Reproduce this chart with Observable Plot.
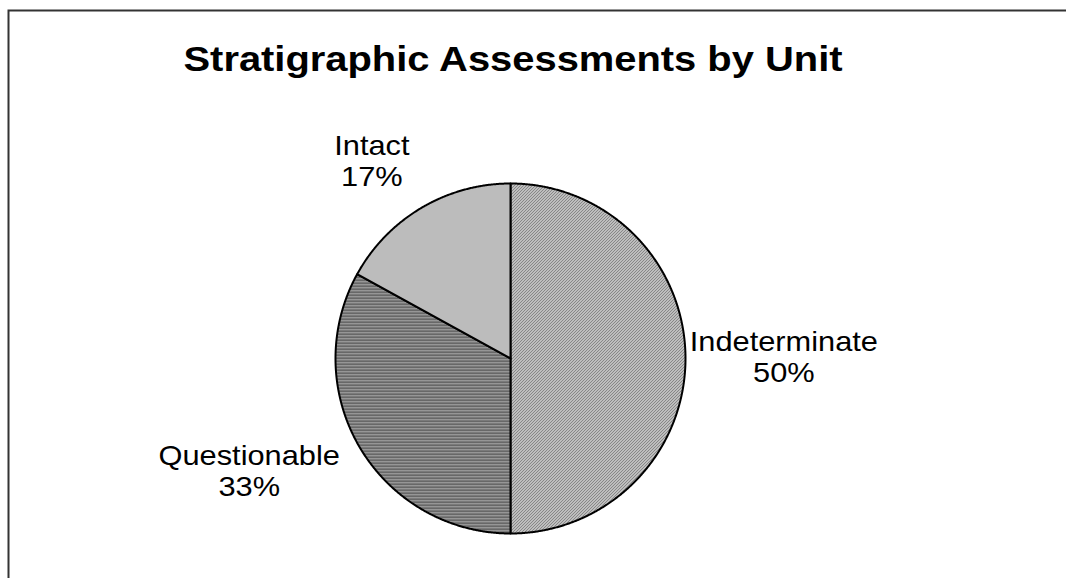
<!DOCTYPE html>
<html><head><meta charset="utf-8">
<script src="https://cdn.jsdelivr.net/npm/d3@7"></script>
<script src="https://cdn.jsdelivr.net/npm/@observablehq/plot@0.6"></script>
<style>body{margin:0;background:#fff} svg{display:block}</style>
</head><body><div id="chart"></div>
<script>
const title = "Stratigraphic Assessments by Unit";
const categories = ["Indeterminate", "Questionable", "Intact"];
const percents = [50, 33, 17];
const percentLabels = ["50%", "33%", "17%"];
const patternIds = ["pat-diag", "pat-horiz", "pat-dots"];

const W = 1066, H = 578;
const R = 175, CX = 510, CY = 358;
const labelFontSize = 27;
const textStretch = 1.14;
const lineH = 1.15;
// small per-label nudges (pixels) to mimic the original best-fit placement
const labelNudge = [[-22, -2], [-10, -6], [-17, 2]];

const arcs = d3.pie().sort(null).value(d => d)(percents);

const slices = arcs.map((a) => {
  const n = Math.max(4, Math.ceil((a.endAngle - a.startAngle) / 0.005));
  const pts = [{x: 0, y: 0}];
  for (let k = 0; k <= n; k++) {
    const t = a.startAngle + (a.endAngle - a.startAngle) * k / n;
    pts.push({x: Math.sin(t), y: Math.cos(t)});
  }
  pts.push({x: 0, y: 0});
  return pts;
});

const ctx = document.createElement("canvas").getContext("2d");
ctx.font = `${labelFontSize}px "Liberation Sans", Arial, sans-serif`;
const labelData = arcs.map((a, i) => {
  const m = (a.startAngle + a.endAngle) / 2;
  const sx = Math.sin(m), sy = Math.cos(m);
  const w = textStretch * Math.max(ctx.measureText(categories[i]).width, ctx.measureText(percentLabels[i]).width);
  const h = labelFontSize * lineH * 2;
  const g = 1.15;
  return {
    x: g * sx + sx * (w / 2) / R,
    y: g * sy + sy * (h / 2) / R,
    text: categories[i] + "\n" + percentLabels[i],
    i
  };
});

function patternDefs() {
  const g = d3.create("svg:g");
  const defs = g.append("defs");
  const p1 = defs.append("pattern").attr("id", patternIds[0]).attr("patternUnits", "userSpaceOnUse").attr("width", 3).attr("height", 3);
  p1.append("rect").attr("width", 3).attr("height", 3).attr("fill", "#f4f4f4");
  p1.append("path").attr("d", "M-1,1 L1,-1 M0,3 L3,0 M2,4 L4,2").attr("stroke", "#1a1a1a").attr("stroke-width", 1.0);
  const p2 = defs.append("pattern").attr("id", patternIds[1]).attr("patternUnits", "userSpaceOnUse").attr("width", 3).attr("height", 3);
  p2.append("rect").attr("width", 3).attr("height", 3).attr("fill", "#a8a8a8");
  p2.append("rect").attr("width", 3).attr("height", 1.4).attr("fill", "#4c4c4c");
  const p3 = defs.append("pattern").attr("id", patternIds[2]).attr("patternUnits", "userSpaceOnUse").attr("width", 2).attr("height", 2);
  p3.append("rect").attr("width", 2).attr("height", 2).attr("fill", "#e2e2e2");
  p3.append("rect").attr("width", 1).attr("height", 1).attr("fill", "#767676");
  p3.append("rect").attr("x", 1).attr("y", 1).attr("width", 1).attr("height", 1).attr("fill", "#b4b4b4");
  return g.node();
}

const chart = Plot.plot({
  width: W, height: H,
  margin: 0,
  x: {domain: [-CX / R, (W - CX) / R], range: [0, W], axis: null},
  y: {domain: [-(H - CY) / R, CY / R], range: [H, 0], axis: null},
  style: {fontFamily: '"Liberation Sans", Arial, sans-serif', background: "#fff"},
  marks: [
    patternDefs,
    Plot.frame({stroke: "#333", strokeWidth: 2, insetLeft: 8, insetTop: 10, insetRight: -5, insetBottom: -5}),
    ...slices.map((pts, i) => Plot.line(pts, {
      x: "x", y: "y", curve: "linear",
      fill: `url(#${patternIds[i]})`,
      stroke: "#000", strokeWidth: 2, strokeLinejoin: "round"
    })),
    ...labelData.map(d => Plot.text([d], {
      x: "x", y: "y", text: "text",
      dx: labelNudge[d.i][0], dy: labelNudge[d.i][1],
      textAnchor: "middle", lineAnchor: "middle", lineHeight: lineH,
      fontSize: labelFontSize, fill: "#000", className: "stretch"
    })),
    Plot.text([title], {
      frameAnchor: "top", dx: -20.5, dy: 70, lineAnchor: "bottom",
      fontSize: 35, fontWeight: "bold", fill: "#000", className: "stretch"
    })
  ]
});

// horizontally widen the text, as in the original rendering
d3.select(chart).selectAll("g.stretch text").each(function() {
  const el = d3.select(this);
  const t = el.attr("transform");
  if (t) {
    el.attr("transform", t + ` scale(${textStretch},1)`);
  } else {
    const x = +el.attr("x") || 0, y = +el.attr("y") || 0;
    el.attr("x", null).attr("y", null).attr("transform", `translate(${x},${y}) scale(${textStretch},1)`);
  }
});

document.getElementById("chart").appendChild(chart);
</script>
</body></html>
